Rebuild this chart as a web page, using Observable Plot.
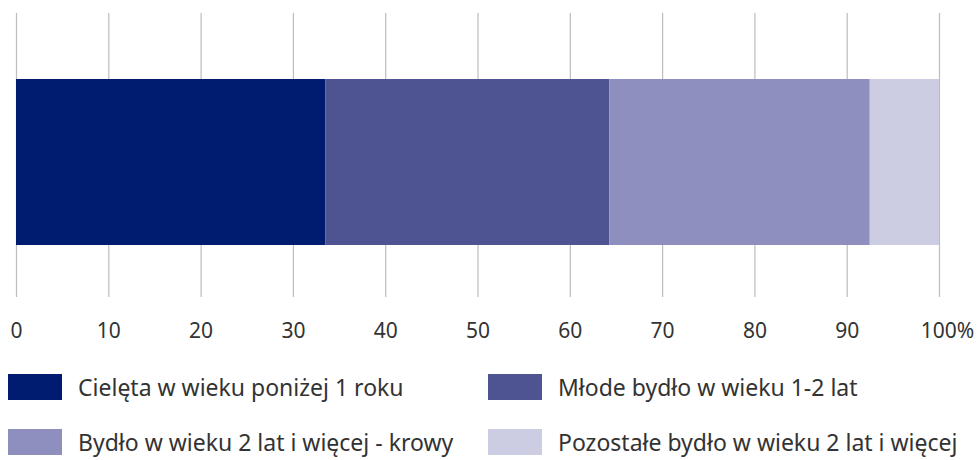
<!DOCTYPE html>
<html>
<head>
<meta charset="utf-8">
<script src="https://cdn.jsdelivr.net/npm/d3@7"></script>
<script src="https://cdn.jsdelivr.net/npm/@observablehq/plot@0.6"></script>
<style>
  body { margin: 0; background: #fff; font-family: "Noto Sans", sans-serif; overflow: hidden; }
  #chart { position: relative; width: 980px; }
  #legend { position: relative; width: 980px; height: 100px; margin-top: 24px; }
  .item { position: absolute; display: flex; align-items: center; height: 26px; font-size: 23px; line-height: 26px; color: #333; white-space: nowrap; }
  .sw { width: 54px; height: 26px; margin-right: 16px; flex: none; }
</style>
</head>
<body>
<div id="chart"></div>
<div id="legend"></div>
<script>
const categories = [
  "Cielęta w wieku poniżej 1 roku",
  "Młode bydło w wieku 1-2 lat",
  "Bydło w wieku 2 lat i więcej - krowy",
  "Pozostałe bydło w wieku 2 lat i więcej"
];
const values = [33.5, 30.8, 28.2, 7.5];
const colors = ["#001c71", "#4e5391", "#8f8fbf", "#cccce3"];
const ticks = [0, 10, 20, 30, 40, 50, 60, 70, 80, 90, 100];
const tickLabels = ["0", "10", "20", "30", "40", "50", "60", "70", "80", "90", "100%"];

const data = categories.map((c, i) => ({category: c, value: values[i], group: "all"}));
const lastTick = ticks[ticks.length - 1];

const plot = Plot.plot({
  width: 980,
  height: 350,
  marginLeft: 16,
  marginRight: 41,
  marginTop: 13,
  marginBottom: 53,
  style: {fontFamily: "Noto Sans, sans-serif", fontSize: "21px", color: "#333", background: "#fff"},
  x: {domain: [0, 100], ticks: ticks, label: null},
  y: {domain: ["all"], range: [79, 245], padding: 0, axis: null},
  color: {domain: categories, range: colors},
  marks: [
    Plot.ruleX(ticks, {stroke: "#bdbdbd", strokeWidth: 1.2}),
    Plot.barX(data, Plot.stackX({x: "value", y: "group", fill: "category", order: null})),
    Plot.axisX(ticks.slice(0, -1), {tickSize: 0, tickPadding: 26, label: null, tickFormat: d => tickLabels[ticks.indexOf(d)], fill: "#333", fontSize: 21}),
    Plot.text([lastTick], {x: d => d, frameAnchor: "bottom", dy: 40, dx: 8, text: d => tickLabels[ticks.indexOf(d)], fill: "#333", fontSize: 21})
  ]
});
document.getElementById("chart").appendChild(plot);

const legend = document.getElementById("legend");
const positions = [[8, 0], [488, 0], [8, 55], [488, 55]];
categories.forEach((c, i) => {
  const it = document.createElement("div");
  it.className = "item";
  it.style.left = positions[i][0] + "px";
  it.style.top = positions[i][1] + "px";
  const sw = document.createElement("span");
  sw.className = "sw";
  sw.style.background = colors[i];
  const t = document.createElement("span");
  t.textContent = c;
  it.appendChild(sw);
  it.appendChild(t);
  legend.appendChild(it);
});
</script>
</body>
</html>
